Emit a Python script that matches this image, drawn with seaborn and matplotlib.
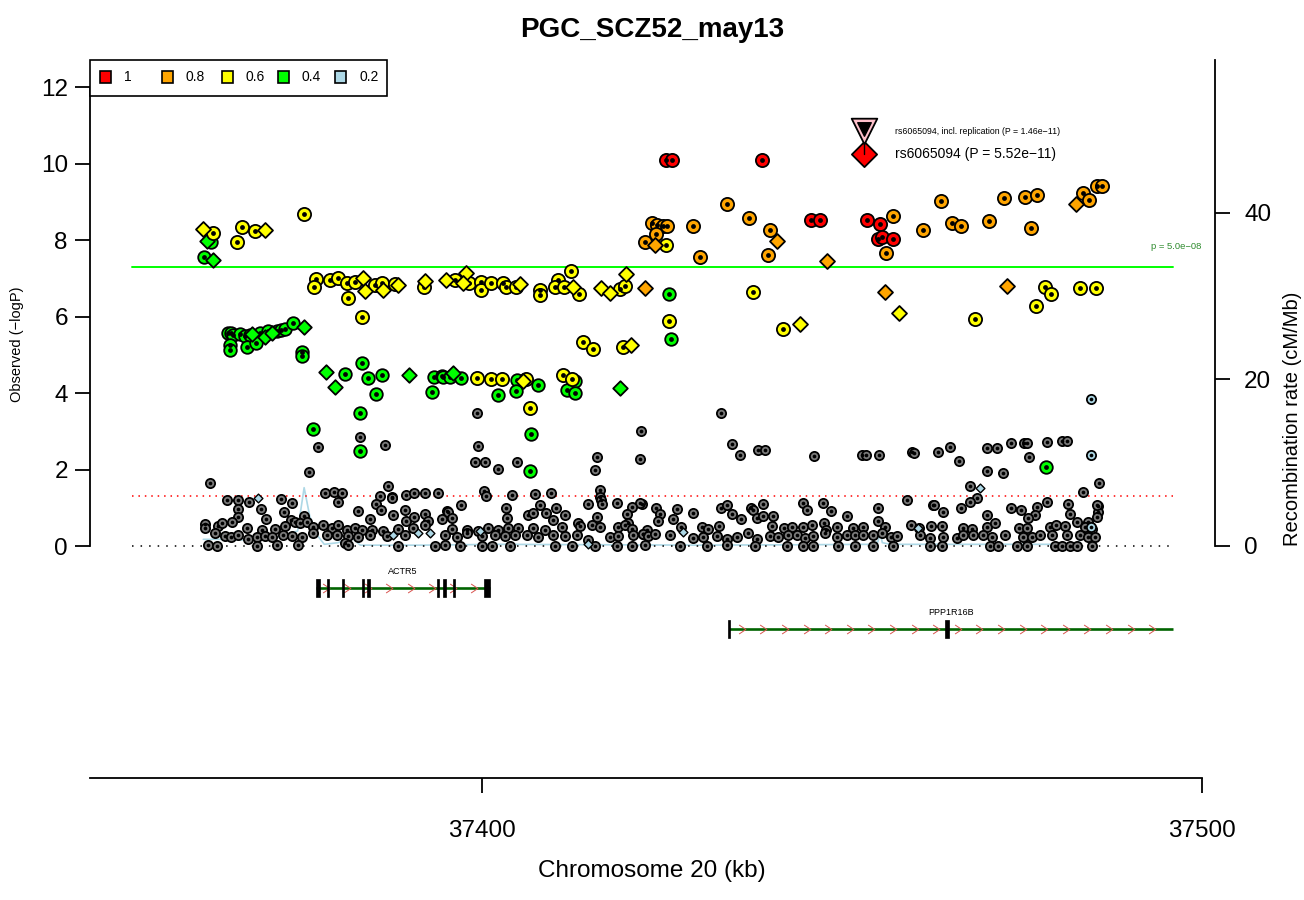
import numpy as np
import pandas as pd
import matplotlib
matplotlib.use("Agg")
import matplotlib.pyplot as plt
import seaborn as sns
from matplotlib.patches import Rectangle
from matplotlib.path import Path

# -------------------------------
# SNPs: (position kb, -log10 P), grouped by LD r2 bin and marker type
# circles = imputed, diamonds = genotyped
# -------------------------------
red_circles = [
    (37425.6, 10.09), (37426.4, 10.09), (37438.9, 10.09), (37445.7, 8.52), (37446.9, 8.52),
    (37453.5, 8.52), (37455.3, 8.42), (37455.0, 8.03), (37455.6, 8.08), (37457.1, 8.03),
]

orange_circles = [
    (37423.6, 8.44), (37424.3, 8.39), (37425.1, 8.37), (37425.7, 8.37), (37422.6, 7.95),
    (37424.2, 8.16), (37429.3, 8.37), (37430.3, 7.56), (37434.0, 8.94), (37437.1, 8.58),
    (37440.0, 8.26), (37439.7, 7.61), (37457.1, 8.63), (37456.1, 7.66), (37461.3, 8.26),
    (37463.8, 9.02), (37465.3, 8.44), (37466.5, 8.37), (37470.4, 8.50), (37472.5, 9.10),
    (37475.4, 9.12), (37477.1, 9.18), (37476.3, 8.31), (37483.5, 9.23), (37484.3, 9.05),
    (37485.4, 9.41), (37486.1, 9.41),
]
orange_diamonds = [
    (37424.0, 7.87), (37441.0, 7.97), (37447.9, 7.45), (37482.5, 8.94), (37422.6, 6.75),
    (37456.0, 6.64), (37472.9, 6.80),
]

yellow_circles = [
    (37362.6, 8.18), (37366.7, 8.34), (37366.0, 7.95), (37368.5, 8.24), (37375.3, 8.68),
    (37377.0, 6.98), (37376.7, 6.77), (37378.9, 6.95), (37380.0, 7.01), (37381.3, 6.88),
    (37382.4, 6.90), (37385.1, 6.82), (37386.1, 6.88), (37387.9, 6.85), (37391.9, 6.77),
    (37381.4, 6.48), (37383.3, 5.99), (37396.3, 6.95), (37398.2, 6.88), (37399.9, 6.90),
    (37399.9, 6.69), (37401.3, 6.88), (37402.9, 6.88), (37403.3, 6.77), (37404.7, 6.77),
    (37408.1, 6.69), (37408.1, 6.56), (37410.6, 6.95), (37410.1, 6.77), (37411.4, 6.77),
    (37412.4, 7.19), (37413.5, 6.59), (37419.2, 6.72), (37419.9, 6.80), (37426.0, 5.88),
    (37414.0, 5.33), (37415.4, 5.15), (37419.6, 5.20), (37399.3, 4.39), (37401.3, 4.37),
    (37402.8, 4.37), (37406.1, 4.37), (37411.3, 4.47), (37412.5, 4.37), (37406.7, 3.61),
    (37437.6, 6.64), (37441.8, 5.67), (37468.5, 5.93), (37476.9, 6.27), (37478.2, 6.77),
    (37479.0, 6.59), (37483.1, 6.75), (37485.3, 6.75), (37425.6, 7.87),
]
yellow_diamonds = [
    (37361.3, 8.29), (37369.9, 8.26), (37383.5, 7.01), (37383.8, 6.67), (37386.3, 6.69),
    (37388.3, 6.82), (37392.1, 6.93), (37395.0, 6.95), (37397.8, 7.14), (37397.4, 6.88),
    (37405.3, 6.85), (37412.6, 6.77), (37416.5, 6.75), (37417.8, 6.61), (37420.0, 7.11),
    (37420.7, 5.25), (37405.7, 4.31), (37444.2, 5.80), (37457.9, 6.09),
]

green_circles = [
    (37362.4, 7.95), (37361.4, 7.56), (37364.7, 5.57), (37365.1, 5.57), (37365.4, 5.52),
    (37366.4, 5.54), (37367.1, 5.49), (37367.8, 5.52), (37369.2, 5.57), (37370.3, 5.62),
    (37371.5, 5.62), (37372.1, 5.65), (37372.6, 5.67), (37373.8, 5.83), (37365.0, 5.25),
    (37365.0, 5.12), (37367.4, 5.20), (37368.6, 5.31), (37375.0, 5.07), (37375.0, 4.97),
    (37381.0, 4.50), (37383.3, 4.78), (37384.2, 4.39), (37386.1, 4.47), (37393.3, 4.42),
    (37394.4, 4.44), (37385.3, 3.97), (37393.1, 4.03), (37394.6, 4.42), (37395.6, 4.42),
    (37397.1, 4.39), (37402.2, 3.95), (37404.9, 4.34), (37404.7, 4.05), (37407.8, 4.21),
    (37412.9, 4.31), (37411.8, 4.08), (37412.9, 4.00), (37406.8, 2.93), (37426.0, 6.59),
    (37426.3, 5.41), (37376.5, 3.06), (37383.1, 3.48), (37383.1, 2.48), (37406.7, 1.96),
    (37478.3, 2.07),
]
green_diamonds = [
    (37361.8, 7.97), (37362.6, 7.48), (37368.1, 5.54), (37369.9, 5.46), (37370.8, 5.57),
    (37375.3, 5.73), (37378.3, 4.55), (37379.6, 4.16), (37389.9, 4.47), (37396.0, 4.52),
    (37419.2, 4.13),
]

lightblue_circles = [(37484.6, 3.84), (37484.6, 2.38), (37484.6, 0.50)]
lightblue_diamonds = [
    (37368.9, 1.25), (37387.6, 0.29), (37391.1, 0.34), (37392.8, 0.34), (37399.7, 0.39),
    (37414.7, 0.05), (37427.9, 0.37), (37460.6, 0.47), (37469.2, 1.52),
]

gray_circles = [
    # scattered above the bulk
    (37362.2, 1.65), (37377.2, 2.59), (37376.0, 1.93), (37383.1, 2.85), (37386.5, 2.64),
    (37399.3, 3.48), (37399.4, 2.61), (37399.0, 2.20), (37400.4, 2.20), (37402.2, 2.01),
    (37404.9, 2.20), (37416.0, 2.33), (37415.7, 1.99), (37422.1, 3.01), (37421.9, 2.27),
    (37433.2, 3.48), (37434.7, 2.67), (37435.8, 2.38), (37438.3, 2.51), (37439.3, 2.51),
    (37446.1, 2.35), (37452.8, 2.38), (37453.3, 2.38), (37455.1, 2.38), (37459.7, 2.46),
    (37460.0, 2.43), (37463.3, 2.46), (37465.0, 2.59), (37466.3, 2.22), (37470.1, 2.56),
    (37471.5, 2.56), (37473.5, 2.69), (37475.3, 2.69), (37475.7, 2.69), (37476.0, 2.33),
    (37478.5, 2.72), (37480.6, 2.75), (37481.3, 2.75), (37470.1, 1.96), (37472.4, 1.91),
    (37467.8, 1.57), (37485.7, 1.65), (37483.5, 1.41), (37468.8, 1.25), (37467.8, 1.15),
    # around p = 0.05
    (37378.2, 1.39), (37379.4, 1.41), (37380.6, 1.39), (37386.9, 1.57), (37385.8, 1.31),
    (37387.5, 1.28), (37389.4, 1.33), (37390.6, 1.39), (37392.1, 1.39), (37393.9, 1.39),
    (37400.3, 1.44), (37400.6, 1.31), (37404.2, 1.33), (37407.4, 1.36), (37409.6, 1.39),
    (37416.4, 1.46), (37416.4, 1.28), (37422.2, 1.10), (37459.0, 1.20), (37462.6, 1.07),
    (37478.5, 1.15), (37481.4, 1.10), (37485.6, 1.05), (37485.6, 0.89),
    # bulk, left half
    (37364.6, 1.20), (37366.1, 1.20), (37367.6, 1.15), (37372.1, 1.23), (37373.6, 1.12),
    (37380.0, 1.15), (37385.3, 1.10), (37387.5, 1.25), (37416.5, 1.20), (37418.8, 1.12),
    (37421.9, 1.12), (37366.1, 0.97), (37369.3, 0.97), (37372.5, 0.89), (37382.8, 0.92),
    (37386.0, 0.94), (37389.3, 0.94), (37395.1, 0.92), (37397.1, 1.07), (37403.3, 0.99),
    (37408.1, 1.07), (37410.3, 0.99), (37414.7, 1.10), (37416.7, 1.10), (37420.8, 1.02),
    (37366.1, 0.76), (37370.0, 0.71), (37373.5, 0.68), (37375.3, 0.78), (37384.5, 0.71),
    (37387.6, 0.81), (37389.4, 0.65), (37390.6, 0.76), (37392.1, 0.84), (37392.5, 0.65),
    (37394.4, 0.71), (37395.3, 0.89), (37395.8, 0.73), (37403.5, 0.73), (37406.4, 0.81),
    (37407.1, 0.86), (37408.9, 0.86), (37409.9, 0.68), (37411.5, 0.81), (37413.3, 0.60),
    (37416.0, 0.76), (37420.1, 0.84), (37420.3, 0.60),
    (37361.5, 0.58), (37361.5, 0.47), (37363.3, 0.52), (37363.9, 0.60), (37365.3, 0.63),
    (37367.4, 0.47), (37369.4, 0.42), (37371.3, 0.44), (37372.6, 0.52), (37374.0, 0.63),
    (37374.7, 0.60), (37375.7, 0.63), (37376.5, 0.50), (37377.9, 0.55), (37379.2, 0.47),
    (37380.0, 0.55), (37381.3, 0.42), (37382.4, 0.47), (37383.3, 0.42), (37384.7, 0.42),
    (37386.3, 0.39), (37388.3, 0.44), (37390.4, 0.47), (37392.1, 0.55), (37395.8, 0.44),
    (37397.9, 0.42), (37399.4, 0.39), (37400.8, 0.47), (37402.2, 0.42), (37403.6, 0.47),
    (37405.0, 0.47), (37407.1, 0.47), (37408.8, 0.42), (37411.1, 0.50), (37413.6, 0.52),
    (37415.3, 0.55), (37416.4, 0.50), (37418.9, 0.50), (37419.9, 0.55), (37420.8, 0.44),
    (37362.9, 0.34), (37364.3, 0.26), (37365.1, 0.24), (37366.1, 0.29), (37367.5, 0.18),
    (37368.8, 0.24), (37369.9, 0.26), (37370.8, 0.24), (37372.4, 0.29), (37373.6, 0.26),
    (37375.0, 0.24), (37376.5, 0.34), (37378.5, 0.29), (37379.9, 0.29), (37381.4, 0.26),
    (37382.8, 0.24), (37384.5, 0.29), (37386.8, 0.26), (37389.3, 0.29), (37394.9, 0.29),
    (37396.5, 0.24), (37397.9, 0.34), (37400.0, 0.26), (37401.8, 0.29), (37403.2, 0.26),
    (37404.6, 0.29), (37406.3, 0.29), (37407.8, 0.24), (37409.9, 0.29), (37411.5, 0.26),
    (37413.2, 0.29), (37414.7, 0.16), (37417.8, 0.24), (37418.9, 0.26), (37421.0, 0.29),
    (37422.4, 0.31),
    (37361.9, 0.03), (37363.2, 0.01), (37368.8, 0.01), (37371.5, 0.03), (37374.5, 0.03),
    (37381.0, 0.08), (37381.4, 0.03), (37388.3, 0.01), (37393.5, 0.01), (37394.9, 0.03),
    (37396.9, 0.01), (37400.0, 0.01), (37401.4, 0.01), (37403.9, 0.01), (37410.1, 0.01),
    (37412.5, 0.01), (37415.7, 0.01), (37418.8, 0.01), (37420.8, 0.01),
    # bulk, right half
    (37424.2, 0.99), (37424.7, 0.84), (37427.1, 0.97), (37429.3, 0.86), (37433.2, 0.99),
    (37434.0, 1.07), (37434.7, 0.84), (37437.4, 0.99), (37437.6, 0.94), (37439.0, 1.10),
    (37438.2, 0.73), (37439.0, 0.78), (37440.4, 0.78), (37444.6, 1.12), (37445.1, 0.94),
    (37447.4, 1.12), (37448.5, 0.92), (37450.7, 0.78), (37455.0, 0.99), (37455.0, 0.65),
    (37462.8, 1.07), (37464.1, 0.89), (37466.5, 0.99), (37470.1, 0.81), (37473.5, 0.99),
    (37474.9, 0.94), (37477.1, 1.02), (37476.8, 0.81), (37475.8, 0.73), (37481.7, 0.84),
    (37482.6, 0.63), (37484.2, 0.63), (37485.4, 0.76), (37485.4, 1.07),
    (37422.9, 0.42), (37424.4, 0.65), (37426.5, 0.71), (37427.6, 0.50), (37430.6, 0.50),
    (37431.4, 0.44), (37432.9, 0.52), (37436.0, 0.71), (37440.3, 0.52), (37441.9, 0.47),
    (37443.1, 0.50), (37444.6, 0.50), (37445.8, 0.55), (37447.5, 0.60), (37447.8, 0.42),
    (37449.3, 0.50), (37451.5, 0.47), (37452.9, 0.50), (37456.0, 0.50), (37459.6, 0.55),
    (37460.7, 0.47), (37462.4, 0.52), (37463.9, 0.52), (37466.8, 0.47), (37468.1, 0.44),
    (37470.1, 0.50), (37471.3, 0.60), (37474.6, 0.47), (37475.7, 0.47), (37478.9, 0.50),
    (37479.7, 0.55), (37481.0, 0.52), (37483.8, 0.50), (37484.7, 0.44),
    (37422.4, 0.31), (37423.1, 0.26), (37424.0, 0.31), (37426.1, 0.29), (37429.3, 0.21),
    (37430.7, 0.24), (37432.6, 0.26), (37434.0, 0.18), (37435.4, 0.24), (37436.9, 0.34),
    (37438.2, 0.18), (37440.0, 0.26), (37441.1, 0.24), (37442.5, 0.29), (37443.8, 0.29),
    (37444.9, 0.21), (37446.0, 0.26), (37447.6, 0.34), (37449.3, 0.24), (37450.7, 0.29),
    (37451.8, 0.29), (37452.9, 0.29), (37454.3, 0.29), (37455.6, 0.34), (37456.8, 0.24),
    (37457.6, 0.26), (37460.8, 0.29), (37462.2, 0.21), (37464.1, 0.24), (37466.0, 0.21),
    (37466.8, 0.29), (37468.2, 0.29), (37469.6, 0.29), (37470.8, 0.24), (37472.6, 0.29),
    (37475.1, 0.24), (37476.4, 0.24), (37477.5, 0.29), (37479.2, 0.29), (37481.3, 0.29),
    (37483.1, 0.29), (37484.2, 0.24), (37485.1, 0.24),
    (37422.6, 0.03), (37427.5, 0.01), (37431.3, 0.01), (37434.0, 0.03), (37437.9, 0.01),
    (37442.4, 0.01), (37444.6, 0.01), (37446.0, 0.01), (37449.4, 0.01), (37451.8, 0.01),
    (37454.3, 0.01), (37457.1, 0.01), (37462.2, 0.01), (37463.9, 0.01), (37470.6, 0.01),
    (37471.7, 0.01), (37474.3, 0.01), (37475.7, 0.01), (37479.6, 0.01), (37480.6, 0.01),
    (37481.7, 0.01), (37482.6, 0.01), (37484.7, 0.01),
]

# index SNP
index_snp = "rs6065094"
index_pos = 37453.0
index_logp = 10.26          # P = 5.52e-11
index_repl_logp = 10.84     # P = 1.46e-11 incl. replication

# recombination rate (cM/Mb)
recomb_pos = [37361.3, 37364.7, 37367.4, 37372.2, 37373.6, 37374.4, 37375.3, 37376.1, 37377.2,
              37378.1, 37380.0, 37381.9, 37383.1, 37391.4, 37402.5, 37416.4, 37430.3, 37444.2,
              37453.9, 37455.0, 37455.3, 37455.6, 37456.7, 37465.0, 37478.9, 37482.5, 37483.5,
              37484.4, 37485.6]
recomb_rate = [0.8, 0.8, 0.7, 1.1, 1.6, 1.8, 7.0, 3.5, 1.2,
               0.2, 0.4, 1.0, 0.1, 0.1, 0.2, 0.15, 0.1, 0.15,
               0.2, 0.5, 1.7, 0.4, 0.2, 0.2, 0.2, 0.3, 1.0,
               2.5, 3.7]

# genes
gene_names = ["ACTR5", "PPP1R16B"]
gene_start = [37377.0, 37434.3]
gene_end = [37401.1, 37496.0]
gene_exons = [
    [(37376.9, 37377.45), (37378.45, 37378.8), (37380.5, 37380.85), (37383.3, 37383.65),
     (37384.1, 37384.45), (37393.75, 37394.1), (37394.6, 37394.95), (37395.95, 37396.3),
     (37400.3, 37401.1)],
    [(37434.15, 37434.45), (37464.3, 37464.85)],
]

ld_labels = ["1", "0.8", "0.6", "0.4", "0.2"]
ld_colors = ["#FF0000", "#FFA500", "#FFFF00", "#00FF00", "#ADD8E6"]

# -------------------------------
# STYLE
# -------------------------------
sns.set_theme(style="ticks", rc={
    "axes.edgecolor": "black", "text.color": "black", "axes.labelcolor": "black",
    "xtick.color": "black", "ytick.color": "black",
})
plt.rcParams['font.family'] = ['Liberation Sans', 'DejaVu Sans']

W, H = 1304, 900
fig = plt.figure(figsize=(W / 100, H / 100), dpi=100)
ax = fig.add_axes([90 / W, 122 / H, 1125 / W, 718 / H])
ax2 = ax.twinx()
ax.set_zorder(ax2.get_zorder() + 1)
ax.patch.set_visible(False)

xmin, xmax = 37345.56, 37501.81
ax.set_xlim(xmin, xmax)
ax.set_ylim(-6.065, 12.706)
ax2.set_ylim(-27.85, 58.34)

# -------------------------------
# RECOMBINATION RATE
# -------------------------------
sns.lineplot(x=recomb_pos, y=recomb_rate, ax=ax2, color="#ADD8E6", linewidth=1.2)

# -------------------------------
# REFERENCE LINES
# -------------------------------
x0, x1 = 37351.4, 37496.0
ax.plot([x0, x1], [-np.log10(5e-8)] * 2, color="#00FF00", lw=1.4, zorder=1)
ax.plot([x0, x1], [-np.log10(0.05)] * 2, color="red", lw=1.1, ls=(0, (1, 3.2)), zorder=1)
ax.plot([x0, x1], [0, 0], color="black", lw=1.1, ls=(0, (1, 4.6)), zorder=1)
ax.text(37499.9, 7.72, "p = 5.0e\u221208", color="#2E8B2E", fontsize=6.8, ha="right", va="bottom")


# -------------------------------
# SNPs
# -------------------------------
def draw(points, color, marker, s, lw=1.3, dot=None, z=3):
    if not points:
        return
    df = pd.DataFrame(points, columns=["pos", "logp"])
    sns.scatterplot(data=df, x="pos", y="logp", ax=ax, color=color, marker=marker, s=s,
                    edgecolor="black", linewidth=lw, legend=False, zorder=z)
    if dot:
        sns.scatterplot(data=df, x="pos", y="logp", ax=ax, color="black", marker="o", s=dot,
                        edgecolor="black", linewidth=0, legend=False, zorder=z)


draw(gray_circles, "#7A7A7A", "o", 44, lw=1.3, dot=7, z=2)
draw(lightblue_circles, "#ADD8E6", "o", 44, lw=1.3, dot=7, z=2)
draw(lightblue_diamonds, "#ADD8E6", "D", 20, lw=1.0, z=2)
draw(green_circles, "#00FF00", "o", 82, dot=12, z=3)
draw(green_diamonds, "#00FF00", "D", 55, z=3)
draw(yellow_circles, "#FFFF00", "o", 90, dot=12, z=4)
draw(yellow_diamonds, "#FFFF00", "D", 58, z=4)
draw(orange_circles, "#FFA500", "o", 90, dot=12, z=5)
draw(orange_diamonds, "#FFA500", "D", 58, z=5)
draw(red_circles, "#FF0000", "o", 90, dot=12, z=6)

# index SNP and replication marker
ax.scatter([index_pos], [index_logp], marker="D", s=165, color="#FF0000", edgecolor="black",
           linewidth=1.3, zorder=7)
ax.plot([index_pos, index_pos], [index_logp, index_repl_logp], color="black", lw=1.0, zorder=7)
ax.scatter([index_pos], [index_repl_logp], marker="v", s=340, color="#FFC0CB", edgecolor="black",
           linewidth=1.3, zorder=8)
ax.scatter([index_pos], [index_repl_logp + 0.07], marker="v", s=95, color="black", zorder=8)
ax.text(37457.4, index_repl_logp, f"{index_snp}, incl. replication (P = 1.46e\u221211)",
        fontsize=6.3, va="center", ha="left", zorder=8)
ax.text(37457.4, index_logp, f"{index_snp} (P = 5.52e\u221211)",
        fontsize=10, va="center", ha="left", zorder=8)

# -------------------------------
# GENES
# -------------------------------
gene_rows = [-1.10, -2.17]
chevron = Path([(-0.45, 0.6), (0.45, 0.0), (-0.45, -0.6)],
               [Path.MOVETO, Path.LINETO, Path.LINETO])
arrow_step = [2.95, 3.0]
arrow_off = [1.3, 1.8]
for i, name in enumerate(gene_names):
    yy = gene_rows[i]
    ax.plot([gene_start[i], gene_end[i]], [yy, yy], color="#006400", lw=1.9, zorder=3,
            solid_capstyle="butt")
    ax_x = np.arange(gene_start[i] + arrow_off[i], gene_end[i] - 0.3, arrow_step[i])
    ax.plot(ax_x, [yy] * len(ax_x), ls="", marker=chevron, ms=6.5, mfc="none",
            mec="#D9534F", mew=0.7, zorder=4)
    for a, b in gene_exons[i]:
        ax.add_patch(Rectangle((a, yy - 0.245), b - a, 0.49, facecolor="black",
                               edgecolor="black", lw=0.5, zorder=5))
    ax.text((gene_start[i] + gene_end[i]) / 2, yy + 0.32, name, fontsize=6.5,
            ha="center", va="bottom")

# -------------------------------
# AXES
# -------------------------------
for s in ["top"]:
    ax.spines[s].set_visible(False)
    ax2.spines[s].set_visible(False)
ax.spines["right"].set_visible(False)
ax2.spines["left"].set_visible(False)
ax2.spines["bottom"].set_visible(False)
for sp in [ax.spines["left"], ax.spines["bottom"], ax2.spines["right"]]:
    sp.set_linewidth(1.3)
ax.spines["left"].set_bounds(0, 12)
ax.spines["bottom"].set_bounds(xmin, 37500)
ax2.spines["right"].set_bounds(0, 58.34)

ax.set_yticks(range(0, 13, 2))
ax.set_xticks([37400, 37500])
ax2.set_yticks([0, 20, 40])
ax.tick_params(axis="y", length=11, width=1.3, labelsize=17.5, pad=5)
ax.tick_params(axis="x", length=11, width=1.3, labelsize=17.5, pad=19)
ax2.tick_params(axis="y", length=11, width=1.3, labelsize=17.5, pad=10)
ax.set_xlabel("")
ax.set_ylabel("")
ax2.set_ylabel("")

fig.text(0.5, 1 - 30 / H, "PGC_SCZ52_may13", fontsize=20, fontweight="bold",
         ha="center", va="center")
fig.text(0.5, 1 - 871 / H, "Chromosome 20 (kb)", fontsize=17.5, ha="center", va="center")
fig.text(17 / W, 1 - 344 / H, "Observed (\u2212logP)", fontsize=10.5, rotation=90,
         ha="center", va="center")
fig.text(1292 / W, 1 - 419 / H, "Recombination rate (cM/Mb)", fontsize=14.5, rotation=90,
         ha="center", va="center")

# -------------------------------
# LD LEGEND
# -------------------------------
fig.add_artist(Rectangle((90 / W, 1 - 96 / H), 297 / W, 36 / H, transform=fig.transFigure,
                         facecolor="white", edgecolor="black", lw=1.2, zorder=10))
sq_x = [105, 167, 227, 283, 340]
for lab, col, cx in zip(ld_labels, ld_colors, sq_x):
    fig.add_artist(Rectangle(((cx - 5.5) / W, 1 - 82.5 / H), 11 / W, 11 / H,
                             transform=fig.transFigure, facecolor=col, edgecolor="black",
                             lw=1.2, zorder=11))
    fig.text((cx + 19) / W, 1 - 77 / H, lab, fontsize=10, ha="left", va="center", zorder=11)

fig.savefig("out.png", dpi=100)
